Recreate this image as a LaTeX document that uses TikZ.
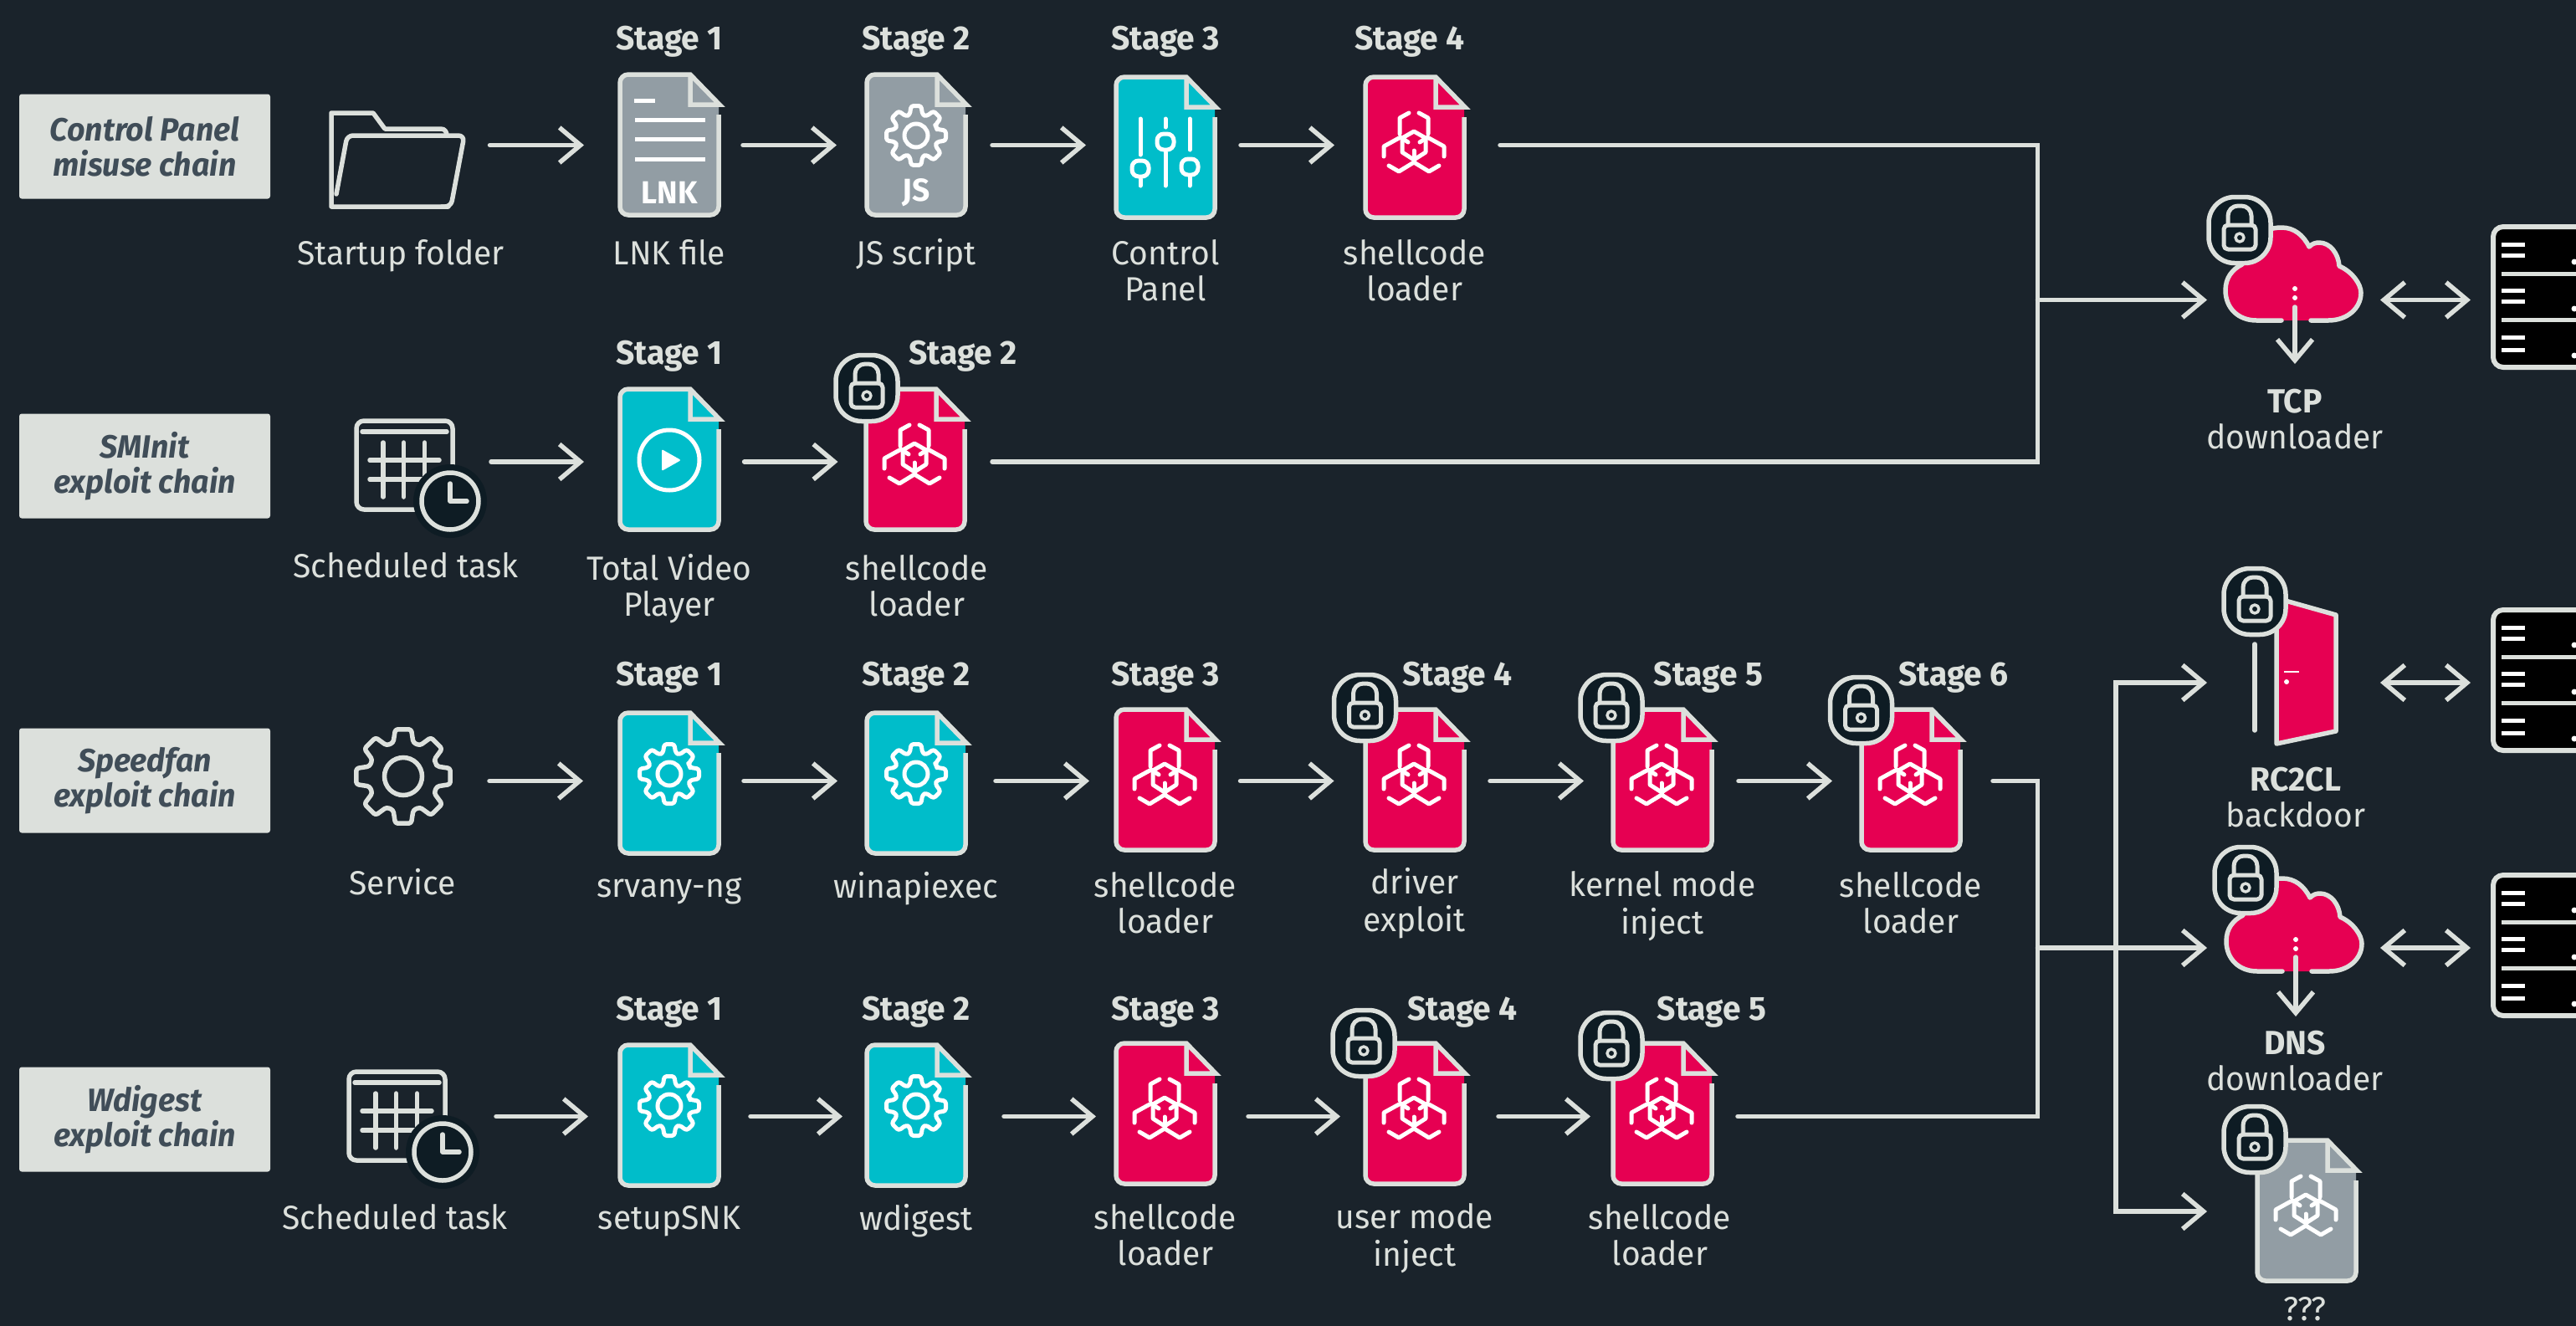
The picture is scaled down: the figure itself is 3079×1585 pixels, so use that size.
\documentclass[tikz,border=0pt]{standalone}
\usepackage{fontspec}
\setmainfont{Fira Sans}[FakeStretch=0.975]
\usetikzlibrary{arrows.meta,calc}
\definecolor{bgc}{HTML}{1A232B}
\definecolor{linec}{HTML}{DCE0DC}
\definecolor{redc}{HTML}{E60052}
\definecolor{cyanc}{HTML}{00BDCA}
\definecolor{grayc}{HTML}{929DA4}
\definecolor{badgec}{HTML}{0E1C24}
\definecolor{chaintxt}{HTML}{404D58}
\tikzset{
  line/.style={draw=linec,line width=5.5pt,line cap=round,line join=round},
  whiteline/.style={draw=white,line width=5pt,line cap=round,line join=round},
  elbow/.style={draw=linec,line width=5.5pt,line cap=round,line join=miter},
  arr/.style={elbow,-{Straight Barb[length=25pt,width=42pt]}},
  dblarr/.style={elbow,{Straight Barb[length=25pt,width=42pt]}-{Straight Barb[length=25pt,width=42pt]}},
  filebox/.style={inner sep=0pt,outer sep=0pt,minimum width=124pt,minimum height=170pt},
  iconbox/.style={inner sep=0pt,outer sep=0pt,minimum width=162pt,minimum height=110pt},
  srvbox/.style={inner sep=0pt,outer sep=0pt,minimum width=102pt,minimum height=174pt},
  srcbox/.style={inner sep=0pt,outer sep=0pt,minimum width=166pt,minimum height=110pt},
  chainbox/.style={fill=linec,rounded corners=3pt,minimum width=300pt,minimum height=125pt,inner sep=0pt,align=center,text=chaintxt,font=\fontsize{38.5}{42}\selectfont\bfseries\itshape},
  textlabel/.style={inner sep=0pt,outer sep=0pt,align=center,text=linec,font=\fontsize{40}{43}\selectfont},
  inicon/.style={inner sep=0pt,outer sep=0pt,text=white,font=\fontsize{38}{43}\selectfont\bfseries},
}
\newcount\lblc
\newcommand\lbl[3]{\global\advance\lblc by 1\node[textlabel] (t\the\lblc) at (#1,#2) {#3};}
\newcommand\stagelbl[3]{\lbl{#1}{#2}{\textbf{Stage #3}\strut}}
\newcommand\bioicon{%
  \begin{scope}[shift={(-1,87)}]
    \draw[whiteline] (-6,-42) -- (-17,-36) -- (-17,-17);
    \draw[whiteline] (6,-42) -- (17,-36) -- (17,-17);
    \draw[whiteline] (-36,10) -- (-36,-2) -- (-16,-13) -- (-7,-7);
    \draw[whiteline] (36,10) -- (36,-2) -- (16,-13) -- (7,-7);
    \draw[whiteline] (-30,21) -- (-18,28) -- (0,17) -- (18,28) -- (30,21);
    \draw[whiteline] (-14,-12) -- (0,-20) -- (14,-12) -- (14,5) -- (0,14) -- (-14,5) -- cycle;
    \draw[whiteline] (0,3) -- (0,17);
  \end{scope}}
\newcommand\gearicon[7]{% R r d1 d2 hub lw colour
  \draw[draw=#7,line width=#6pt,rounded corners=3pt,line join=round]
    (-22.5:#2) \foreach \aa in {0,45,...,315} { -- ({\aa-#4}:#2) -- ({\aa-#3}:#1) -- ({\aa+#3}:#1) -- ({\aa+#4}:#2) } -- cycle;
  \draw[draw=#7,line width=#6pt] (0,0) circle[radius=#5pt];}
% name, x, top, y of connector, fill colour, contents
\newcommand\filedoc[6]{%
  \node[filebox] (#1) at (#2,#4) {};
  \begin{scope}[shift={(#2,#3)}]
    \fill[#5,rounded corners=10pt] (-59,60) -- (-59,2) [sharp corners] -- (25,2) -- (59,38) [rounded corners=10pt] -- (59,170) -- (-59,170) -- cycle;
    \draw[draw=linec,line width=5.5pt,line join=miter,rounded corners=10pt] (59,50) -- (59,170) -- (-59,170) -- (-59,2) [sharp corners] -- (25,2) -- (60,38) -- (25,38) -- (25,2);
    #6
  \end{scope}}
\newcommand\lockbadge[2]{%
  \begin{scope}[shift={(#1,#2)}]
    \draw[fill=badgec,draw=linec,line width=5.5pt,rounded corners=31pt] (-37,-39.5) rectangle (37,39.5);
    \draw[line,rounded corners=12pt,line width=5pt] (-14,-6) -- (-14,-29) -- (14,-29) -- (14,-6);
    \draw[line,line width=5pt,rounded corners=5pt] (-19,-6) rectangle (19,23);
    \draw[line,line width=3.5pt] (0,9) circle[radius=5pt];
  \end{scope}}
\newcommand\schedicon[2]{%
  \begin{scope}[shift={(#1,#2)}]
    \draw[line,rounded corners=9pt] (426,503) rectangle (541,609);
    \draw[line] (433,516) -- (534,516);
    \foreach \vx in {458,482.5,507.5} {\draw[line] (\vx,529) -- (\vx,594);}
    \foreach \hy in {550,573} {\draw[line] (442,\hy) -- (525,\hy);}
    \fill[badgec] (538,599) circle[radius=44pt];
    \draw[line] (538,599) circle[radius=34pt];
    \draw[line] (538,578) -- (538,599) -- (558,599);
  \end{scope}}
\newcommand\cloudicon[2]{%
  \begin{scope}[shift={(#1,#2)}]
    \fill[redc] (2727,383) -- (2697,383) .. controls (2675,383) and (2660,368) .. (2660,347) .. controls (2660,332) and (2668,322) .. (2680,316) .. controls (2682,290) and (2702,272) .. (2727,272) .. controls (2742,272) and (2753,281) .. (2760,295) .. controls (2764,291) and (2768,290) .. (2772,290) .. controls (2785,290) and (2795,303) .. (2796,318) .. controls (2812,325) and (2822,340) .. (2822,350) .. controls (2822,368) and (2806,383) .. (2783,383) -- cycle;
    \draw[line] (2727,383) -- (2697,383) .. controls (2675,383) and (2660,368) .. (2660,347) .. controls (2660,332) and (2668,322) .. (2680,316) .. controls (2682,290) and (2702,272) .. (2727,272) .. controls (2742,272) and (2753,281) .. (2760,295) .. controls (2764,291) and (2768,290) .. (2772,290) .. controls (2785,290) and (2795,303) .. (2796,318) .. controls (2812,325) and (2822,340) .. (2822,350) .. controls (2822,368) and (2806,383) .. (2783,383) -- (2762,383);
    \fill[white] (2743,345) circle[radius=3pt] (2743,356) circle[radius=3pt];
  \end{scope}}
\newcommand\serverbox[1]{%
  \begin{scope}[shift={(0,#1)}]
    \draw[fill=black,draw=linec,line width=6pt,rounded corners=12pt] (2980,271) rectangle (3110,439);
    \draw[draw=linec,line width=5pt] (2990,327) -- (3079,327) (2990,382) -- (3079,382);
    \foreach \by in {292,305,347,360,403,418} {\draw[draw=white,line width=5pt] (2990,\by) -- (3018,\by);}
    \foreach \dy in {313,369,425} {\fill[white] (3077,\dy) circle[radius=3.5pt];}
  \end{scope}}
\begin{document}
\begin{tikzpicture}[x=1pt,y=-1pt]
\useasboundingbox (0,0) rectangle (3079,1585);
\clip (0,0) rectangle (3079,1585);
\fill[bgc] (0,0) rectangle (3079,1585);

% chain boxes
\node[chainbox] (c1) at (173,175) {Control Panel\\misuse chain};
\node[chainbox] (c2) at (173,557) {SMInit\\exploit chain};
\node[chainbox] (c3) at (173,933) {Speedfan\\exploit chain};
\node[chainbox] (c4) at (173,1338) {Wdigest\\exploit chain};

% source icons
\node[srcbox] (s1) at (474,173.5) {};
\node[srcbox] (s2) at (474,552) {};
\node[srcbox] (s3) at (474,933.5) {};
\node[srcbox] (s4) at (474,1334.5) {};
% folder
\draw[line] (536,247) -- (396,247) -- (396,135) -- (446,135) -- (460,154) -- (527,154) .. controls (532,154) and (534,158) .. (534,162);
\draw[line,rounded corners=7pt] (402,232) -- (415,162) -- (555,162) -- (539,247) -- (528,247);
\schedicon{0}{0}
\schedicon{-9}{778}
\begin{scope}[shift={(482,928)}]
  \gearicon{57}{42}{9.6}{16.6}{22.5}{5.5}{linec}
\end{scope}

% files
\filedoc{n11}{800}{87}{173.5}{grayc}{%
  \draw[whiteline,line cap=butt] (-42,33) -- (-17,33) (-41,56) -- (43,56) (-41,79.5) -- (43,79.5) (-41,103) -- (43,103);
  \node[inicon] (lnk) at (0,143) {LNK};}
\filedoc{n12}{1095}{87}{173.5}{grayc}{%
  \begin{scope}[shift={(0,75)}]\gearicon{36}{26}{9.6}{17}{14}{5}{white}\end{scope}
  \node[inicon] (js) at (0,143) {JS};}
\filedoc{n13}{1393}{90}{173.5}{cyanc}{%
  \draw[whiteline] (-30,52) -- (-30,95) (-30,124) -- (-30,132);
  \draw[whiteline,rounded corners=8pt] (-40,102) rectangle (-20,121);
  \draw[whiteline] (0,52) -- (0,62) (0,92) -- (0,132);
  \draw[whiteline,rounded corners=8pt] (-10,70) rectangle (10,89);
  \draw[whiteline] (29,52) -- (29,89) (29,122) -- (29,132);
  \draw[whiteline,rounded corners=8pt] (19,100) rectangle (39,119);}
\filedoc{n14}{1691}{90}{173.5}{redc}{\bioicon}

\filedoc{n21}{800}{463}{552}{cyanc}{%
  \draw[whiteline] (0,87) circle[radius=36pt];
  \fill[white,rounded corners=2pt] (-9,74) -- (14,87) -- (-9,100) -- cycle;}
\filedoc{n22}{1094}{463}{552}{redc}{\bioicon}

\filedoc{n31}{800}{850}{933.5}{cyanc}{\begin{scope}[shift={(0,75)}]\gearicon{36}{26}{9.6}{17}{14}{5}{white}\end{scope}}
\filedoc{n32}{1095}{850}{933.5}{cyanc}{\begin{scope}[shift={(0,75)}]\gearicon{36}{26}{9.6}{17}{14}{5}{white}\end{scope}}
\filedoc{n33}{1393}{846}{933.5}{redc}{\bioicon}
\filedoc{n34}{1691}{846}{933.5}{redc}{\bioicon}
\filedoc{n35}{1987}{846}{933.5}{redc}{\bioicon}
\filedoc{n36}{2284}{846}{933.5}{redc}{\bioicon}

\filedoc{n41}{800}{1247}{1334.5}{cyanc}{\begin{scope}[shift={(0,75)}]\gearicon{36}{26}{9.6}{17}{14}{5}{white}\end{scope}}
\filedoc{n42}{1095}{1247}{1334.5}{cyanc}{\begin{scope}[shift={(0,75)}]\gearicon{36}{26}{9.6}{17}{14}{5}{white}\end{scope}}
\filedoc{n43}{1393}{1245}{1334.5}{redc}{\bioicon}
\filedoc{n44}{1691}{1245}{1334.5}{redc}{\bioicon}
\filedoc{n45}{1987}{1245}{1334.5}{redc}{\bioicon}

% right side nodes
\node[iconbox] (cloud1) at (2741,358.5) {};
\node[iconbox] (door) at (2741,816) {};
\node[iconbox] (cloud2) at (2741,1133) {};
\node[iconbox] (unk) at (2741,1448) {};
\node[srvbox] (srv1) at (3028,358.5) {};
\node[srvbox] (srv2) at (3028,816) {};
\node[srvbox] (srv3) at (3028,1133) {};

% connectors
\newcommand\conn[4]{\draw[arr,shorten <=#3pt,shorten >=#4pt] (#1) -- (#2);}
\conn{s1}{n11}{28.5}{40}\conn{n11}{n12}{26}{33}\conn{n12}{n13}{29}{33}\conn{n13}{n14}{28}{34}
\conn{s2}{n21}{30}{40}\conn{n21}{n22}{27.6}{30.5}
\conn{s3}{n31}{28}{41}\conn{n31}{n32}{27}{32}\conn{n32}{n33}{33}{29}\conn{n33}{n34}{27.5}{34.5}\conn{n34}{n35}{28}{32}\conn{n35}{n36}{29}{32}
\conn{s4}{n41}{36}{35}\conn{n41}{n42}{35}{26}\conn{n42}{n43}{43}{21}\conn{n43}{n44}{37}{27}\conn{n44}{n45}{38}{24}

\coordinate (j1) at (2435.5,358.5);
\coordinate (j2) at (2435.5,1133);
\coordinate (j3) at (2529,1133);
\draw[elbow,shorten <=40pt,shorten >=30pt] (n14.east) -- (n14.east -| j1) -- (n22.east -| j1) -- (n22.east);
\draw[elbow,shorten <=36pt,shorten >=28pt] (n36.east) -- (n36.east -| j2) -- (n45.east -| j2) -- (n45.east);
\draw[arr,shorten >=22pt] (j1) -- (cloud1);
\draw[arr,shorten >=22pt] (j2) -- (cloud2);
\draw[arr,shorten >=22pt] (j3) -- (j3 |- door) -- (door);
\draw[arr,shorten >=22pt] (j3) -- (j3 |- unk) -- (unk);
\draw[dblarr,shorten <=23pt,shorten >=24pt] (cloud1) -- (srv1);
\draw[dblarr,shorten <=23pt,shorten >=24pt] (door) -- (srv2);
\draw[dblarr,shorten <=23pt,shorten >=24pt] (cloud2) -- (srv3);

% right icons
\cloudicon{0}{0}
\coordinate (d1a) at (2743,367); \coordinate (d1b) at (2743,435);
\draw[arr] (d1a) -- (d1b);
\cloudicon{1}{778}
\coordinate (d2a) at (2744,1144); \coordinate (d2b) at (2744,1215);
\draw[arr] (d2a) -- (d2b);
% door
\draw[fill=redc,draw=linec,line width=5.5pt,line join=round] (2721,715) -- (2792,735) -- (2792,874) -- (2721,889) -- cycle;
\draw[line] (2695,770) -- (2695,873);
\draw[draw=white,line width=2.5pt] (2730,803) -- (2748,803);
\fill[white] (2733,815) circle[radius=3pt];
% unknown file
\filedoc{unkfile}{2757}{1361}{1448}{grayc}{\bioicon}
% locks
\lockbadge{2677}{275}
\lockbadge{2695}{719}
\lockbadge{2684}{1052}
\lockbadge{2695}{1362}
\lockbadge{1036}{464}
\lockbadge{1631.5}{846}
\lockbadge{1926}{846}
\lockbadge{2224.5}{849}
\lockbadge{1630}{1247}
\lockbadge{1926}{1250}
% servers
\serverbox{0}
\serverbox{458}
\serverbox{775}

% stage labels
\stagelbl{800}{50.4}{1}\stagelbl{1095}{50.4}{2}\stagelbl{1393}{50.4}{3}\stagelbl{1685}{50.4}{4}
\stagelbl{800}{426.4}{1}\stagelbl{1151}{426.4}{2}
\stagelbl{800}{810.7}{1}\stagelbl{1095}{810.7}{2}\stagelbl{1393}{810.7}{3}\stagelbl{1742}{810.7}{4}\stagelbl{2042}{810.7}{5}\stagelbl{2335}{810.7}{6}
\stagelbl{800}{1211}{1}\stagelbl{1095}{1211}{2}\stagelbl{1393}{1211}{3}\stagelbl{1748}{1211}{4}\stagelbl{2046}{1211}{5}

% names
\lbl{479}{307.4}{Startup folder\strut}
\lbl{800}{307.4}{LNK file\strut}
\lbl{1095}{307.4}{JS script\strut}
\lbl{1393}{329}{Control\strut\\Panel\strut}
\lbl{1691}{329}{shellcode\strut\\loader\strut}
\lbl{485}{682}{Scheduled task\strut}
\lbl{800}{706}{Total Video\strut\\Player\strut}
\lbl{1096}{706}{shellcode\strut\\loader\strut}
\lbl{481}{1060}{Service\strut}
\lbl{800}{1064}{srvany-ng\strut}
\lbl{1095}{1064}{winapiexec\strut}
\lbl{1393}{1085}{shellcode\strut\\loader\strut}
\lbl{1691}{1082}{driver\strut\\exploit\strut}
\lbl{1987}{1085}{kernel mode\strut\\inject\strut}
\lbl{2284}{1085}{shellcode\strut\\loader\strut}
\lbl{472}{1461}{Scheduled task\strut}
\lbl{800}{1461}{setupSNK\strut}
\lbl{1095}{1461}{wdigest\strut}
\lbl{1393}{1482}{shellcode\strut\\loader\strut}
\lbl{1691}{1482}{user mode\strut\\inject\strut}
\lbl{1984}{1482}{shellcode\strut\\loader\strut}
\lbl{2743}{506}{\textbf{TCP}\strut\\downloader\strut}
\lbl{2744}{958.5}{\textbf{RC2CL}\strut\\backdoor\strut}
\lbl{2743}{1273.5}{\textbf{DNS}\strut\\downloader\strut}
\node[textlabel,anchor=base] (unklabel) at (2755,1578) {???};
\end{tikzpicture}
\end{document}
